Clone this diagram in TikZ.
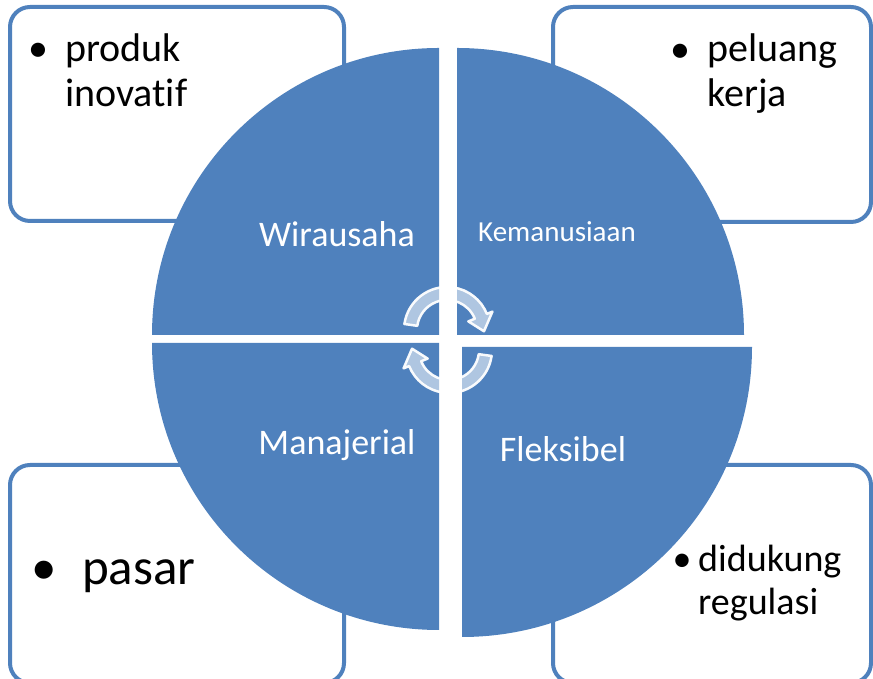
\documentclass[tikz,border=0pt]{standalone}
\usepackage{fontspec}
\setmainfont{Carlito}[Ligatures=NoCommon]
\usepackage{xcolor}
\definecolor{quadblue}{HTML}{4F81BD}

\begin{document}
\begin{tikzpicture}[
  x=1pt, y=1pt,
  card/.style={draw=quadblue, line width=4pt, fill=white, rounded corners=20pt},
  quad/.style={fill=quadblue},
  quadlabel/.style={text=white, anchor=base, inner sep=0pt},
  dot/.style={anchor=base, inner sep=0pt},
  item/.style={anchor=base west, align=left, inner sep=0pt},
  cyclearrow/.style={fill=white, fill opacity=0.55, draw=white, draw opacity=0.95, line width=2.5pt, line join=round}
]
\clip (0,0) rectangle (873,679);

% Corner cards
\draw[card] (10,458) rectangle (344,672);
\draw[card] (553,457) rectangle (871,672);
\draw[card] (10,-4) rectangle (344,214);
\draw[card] (553,-4) rectangle (871,214);

% Circle quadrants
\fill[quad] (439,344) -- ++(180:287) arc[start angle=180, end angle=90, radius=287] -- cycle;
\fill[quad] (457,344) -- ++(90:287) arc[start angle=90, end angle=0, radius=287] -- cycle;
\fill[quad] (439,336) -- ++(270:287) arc[start angle=270, end angle=180, radius=287] -- cycle;
\fill[quad] (462,332) -- ++(0:290) arc[start angle=0, end angle=-90, radius=290] -- cycle;

% Cycle arrows
\begin{scope}[shift={(447,349)}]
  \filldraw[cyclearrow] (172:43) arc[start angle=172, end angle=22, radius=43] -- (22:49) -- (-2:37) -- (22:23) -- (22:30) arc[start angle=22, end angle=172, radius=30] -- cycle;
\end{scope}
\begin{scope}[shift={(449,329)}, rotate=180]
  \filldraw[cyclearrow] (172:43) arc[start angle=172, end angle=22, radius=43] -- (22:49) -- (-2:37) -- (22:23) -- (22:30) arc[start angle=22, end angle=172, radius=30] -- cycle;
\end{scope}

% Quadrant labels
\node[quadlabel, font=\fontsize{36}{43}\selectfont] (wirausaha) at (337,432) {Wirausaha};
\node[quadlabel, font=\fontsize{29}{35}\selectfont] (kemanusiaan) at (557,437) {Kemanusiaan};
\node[quadlabel, font=\fontsize{36}{43}\selectfont] (manajerial) at (337,224) {Manajerial};
\node[quadlabel, font=\fontsize{36}{43}\selectfont] (fleksibel) at (563,217) {Fleksibel};

% Card texts (base of a two-line node is its last line)
\node[dot, font=\fontsize{40}{45}\selectfont] (produk_dot) at (38,617) {•};
\node[item, font=\fontsize{40}{45}\selectfont] (produk) at (65,572) {produk\\inovatif};
\node[dot, font=\fontsize{40}{45}\selectfont] (peluang_dot) at (680,616) {•};
\node[item, font=\fontsize{40}{45}\selectfont] (peluang) at (707,572) {peluang\\kerja};
\node[dot, font=\fontsize{51}{61}\selectfont] (pasar_dot) at (44,94) {•};
\node[item, font=\fontsize{51}{61}\selectfont] (pasar) at (82,94) {pasar};
\node[dot, font=\fontsize{38}{43}\selectfont] (didukung_dot) at (682,107) {•};
\node[item, font=\fontsize{38}{43}\selectfont] (didukung) at (698,64) {didukung\\regulasi};

\end{tikzpicture}
\end{document}
